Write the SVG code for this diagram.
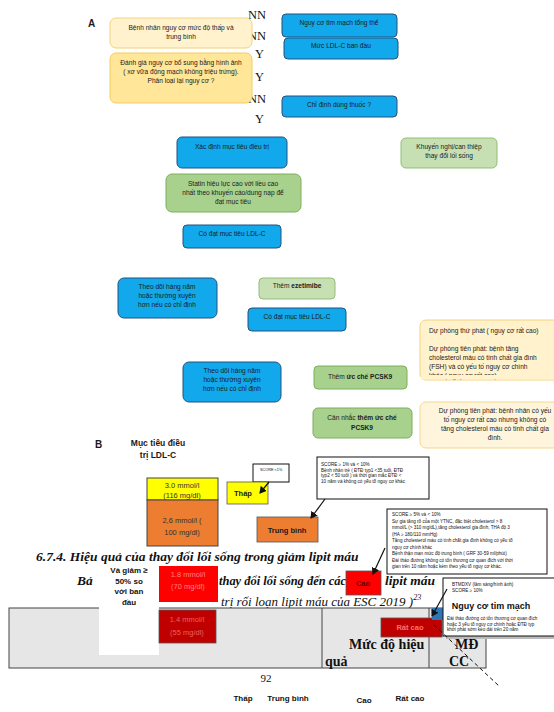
<svg xmlns="http://www.w3.org/2000/svg" width="554" height="712" viewBox="0 0 554 712">
<defs>
<style>
.t{font-family:"Liberation Sans",Arial,sans-serif;font-size:6.6px;fill:#1a1a1a;text-anchor:middle}
.tl{font-family:"Liberation Sans",Arial,sans-serif;font-size:6.6px;fill:#1a1a1a}
.s{font-family:"Liberation Sans",Arial,sans-serif;font-size:4.6px;fill:#111}
.b{font-weight:bold}
.blue{fill:#12a9ec;stroke:#24517e;stroke-width:1}
.g1{fill:#a9d18e;stroke:#7fae5c;stroke-width:1}
.g2{fill:#c6e0b4;stroke:#93bd75;stroke-width:1}
.y1{fill:#fff2cc;stroke:#f3d27a;stroke-width:1}
.y2{fill:#ffe699;stroke:#f2cd5c;stroke-width:1}
.y3{fill:#fff4dc;stroke:#f3d88e;stroke-width:1}
.serif{font-family:"Liberation Serif","Times New Roman",serif;fill:#111}
.note{fill:#fff;stroke:#111;stroke-width:1}
.lab{font-family:"Liberation Sans",Arial,sans-serif;font-size:8px;font-weight:bold;fill:#111;text-anchor:middle}
.v{font-size:7.5px}
</style>
<marker id="ah" markerWidth="8" markerHeight="8" refX="6" refY="4" orient="auto" markerUnits="userSpaceOnUse">
<path d="M0,0 L7,4 L0,8 z" fill="#111"/>
</marker>
</defs>
<rect width="554" height="712" fill="#fff"/>

<!-- Background textbook page -->
<g id="page">
<text class="serif" x="36" y="561" font-size="13.5" font-weight="bold" font-style="italic">6.7.4. Hiệu quả của thay đổi lối sống trong giảm lipit máu</text>
<text class="serif" x="77" y="585" font-size="13.5" font-weight="bold" font-style="italic">Bả</text>
<text class="serif" x="219" y="585" font-size="13.5" font-weight="bold" font-style="italic" textLength="127" lengthAdjust="spacingAndGlyphs">thay đổi lối sống đến các</text>
<text class="serif" x="385" y="585" font-size="13.5" font-weight="bold" font-style="italic">lipit máu</text>
<text class="serif" x="221" y="606" font-size="13" font-style="italic">trị rối loạn lipit máu của ESC 2019 )<tspan font-size="8" dy="-6">23</tspan></text>
<rect x="9" y="608" width="477" height="60" fill="#e7e6e6" stroke="#444" stroke-width="1"/>
<line x1="322" y1="608" x2="322" y2="668" stroke="#444" stroke-width="1"/>
<line x1="429" y1="608" x2="429" y2="668" stroke="#444" stroke-width="1"/>
<text class="serif" x="349" y="649" font-size="14" font-weight="bold">Mức  độ  hiệu</text>
<text class="serif" x="325" y="666" font-size="14" font-weight="bold">quả</text>
<text class="serif" x="455" y="649" font-size="14" font-weight="bold">MĐ</text>
<text class="serif" x="449" y="666" font-size="14" font-weight="bold">CC</text>
<text class="serif" x="266" y="682" font-size="11" text-anchor="middle">92</text>
</g>

<!-- Section A -->
<g id="labelA"><text class="tl b" x="88" y="27" style="font-size:10px">A</text></g>

<g id="yn" class="serif" font-size="12.5">
<text x="248" y="19">NN</text>
<text x="248" y="40">NN</text>
<text x="255" y="58">Y</text>
<text x="255" y="81">Y</text>
<text x="248" y="103">NN</text>
<text x="255" y="123">Y</text>
</g>

<g id="n1"><rect class="y1" x="110" y="18" width="142" height="30" rx="6"/>
<text class="t" x="181" y="30">Bệnh nhân nguy cơ mức độ thấp và</text>
<text class="t" x="181" y="39">trung bình</text></g>

<g id="n2"><rect class="y2" x="110" y="53" width="142" height="50" rx="6"/>
<text class="t" x="181" y="65">Đánh giá nguy cơ bổ sung bằng hình ảnh</text>
<text class="t" x="181" y="74">( xơ vữa động mạch không triệu trứng).</text>
<text class="t" x="181" y="83">Phân loại lại nguy cơ ?</text></g>

<g id="n3"><rect class="blue" x="282" y="14" width="115" height="23" rx="4"/>
<text class="t" x="339" y="25">Nguy cơ tim mạch tổng thể</text></g>

<g id="n4"><rect class="blue" x="284" y="38" width="114" height="21" rx="4"/>
<text class="t" x="341" y="48">Mức LDL-C ban đầu</text></g>

<g id="n5"><rect class="blue" x="282" y="96" width="115" height="21" rx="4"/>
<text class="t" x="339" y="107">Chỉ định dùng thuốc ?</text></g>

<g id="n6"><rect class="blue" x="177" y="137" width="110" height="31" rx="5"/>
<text class="t" x="232" y="149">Xác định mục tiêu điều trị</text></g>

<g id="n7"><rect class="g2" x="401" y="138" width="96" height="30" rx="5"/>
<text class="t" x="449" y="149">Khuyến nghị/can thiệp</text>
<text class="t" x="449" y="158">thay đổi lối sống</text></g>

<g id="n8"><rect class="g1" x="166" y="174" width="135" height="38" rx="6"/>
<text class="t" x="233" y="186">Statin hiệu lực cao với liều cao</text>
<text class="t" x="233" y="195">nhất theo khuyến cáo/dung nạp để</text>
<text class="t" x="233" y="204">đạt mục tiêu</text></g>

<g id="n9"><rect class="blue" x="183" y="225" width="98" height="23" rx="4"/>
<text class="t" x="232" y="236">Có đạt mục tiêu LDL-C</text></g>

<g id="n10"><rect class="blue" x="118" y="278" width="99" height="40" rx="6"/>
<text class="t" x="167" y="289">Theo dõi hàng năm</text>
<text class="t" x="167" y="298">hoặc thường xuyên</text>
<text class="t" x="167" y="307">hơn nếu có chỉ định</text></g>

<g id="n11"><rect class="g2" x="259" y="278" width="76" height="21" rx="4"/>
<text class="t" x="297" y="288">Thêm <tspan class="b">ezetimibe</tspan></text></g>

<g id="n12"><rect class="blue" x="248" y="308" width="98" height="23" rx="4"/>
<text class="t" x="297" y="319">Có đạt mục tiêu LDL-C</text></g>

<g id="n13"><rect class="blue" x="183" y="362" width="98" height="40" rx="6"/>
<text class="t" x="232" y="373">Theo dõi hàng năm</text>
<text class="t" x="232" y="382">hoặc thường xuyên</text>
<text class="t" x="232" y="391">hơn nếu có chỉ định</text></g>

<g id="n14"><rect class="g1" x="314" y="366" width="93" height="23" rx="4"/>
<text class="t" x="360" y="379">Thêm <tspan class="b">ức chế PCSK9</tspan></text></g>

<g id="n15"><rect class="g1" x="313" y="408" width="99" height="30" rx="5"/>
<text class="t" x="362" y="420">Cân nhắc <tspan class="b">thêm ức chế</tspan></text>
<text class="t b" x="362" y="430">PCSK9</text></g>

<g id="n16"><rect class="y1" x="420" y="320" width="145" height="60" rx="6"/>
<text class="tl" x="429" y="333">Dự phòng thứ phát ( nguy cơ rất cao)</text>
<text class="tl" x="429" y="351">Dự phòng tiên phát: bệnh tăng</text>
<text class="tl" x="429" y="360">cholesterol máu có tính chất gia đình</text>
<text class="tl" x="429" y="369">(FSH) và có yếu tố nguy cơ chính</text>
<text class="tl" x="429" y="378">khác ( nguy cơ rất cao)</text>
<rect x="421" y="375" width="143" height="4.5" fill="#fff2cc"/></g>

<g id="n17"><rect class="y3" x="420" y="402" width="150" height="46" rx="6"/>
<text class="t" x="495" y="413">Dự phòng tiên phát: bệnh nhân có yếu</text>
<text class="t" x="495" y="422">tố nguy cơ rất cao nhưng không có</text>
<text class="t" x="495" y="431">tăng cholesterol máu có tính chất gia</text>
<text class="t" x="495" y="440">đình.</text></g>

<!-- Section B -->
<g id="labelB"><text class="tl b" x="95" y="448" style="font-size:10px">B</text></g>
<g id="title"><text class="t b" x="158" y="446" style="font-size:8.5px">Mục tiêu điều</text>
<text class="t b" x="158" y="458" style="font-size:8.5px">trị LDL-C</text></g>

<g id="b1"><rect x="147" y="478" width="71" height="22" fill="#ffff00" stroke="#444" stroke-width="1"/>
<text class="t v" x="182" y="488" style="fill:#333">3.0 mmol/l</text>
<text class="t v" x="182" y="498" style="fill:#333">(116 mg/dl)</text></g>

<g id="b2"><rect x="147" y="500" width="71" height="46" fill="#ed7d31" stroke="#444" stroke-width="1"/>
<text class="t v" x="182" y="523" style="fill:#333">2,6 mmol/l (</text>
<text class="t v" x="182" y="535" style="fill:#333">100 mg/dl)</text></g>

<g id="s1"><rect class="note" x="253" y="464" width="36" height="18"/>
<text class="s" x="260" y="471" style="font-size:3.8px">SCORE &lt;1%</text></g>

<g id="r1"><rect x="227" y="482" width="41" height="22" fill="#ffff00" stroke="#555" stroke-width="0.8"/>
<text class="tl b v" x="234" y="496">Thấp</text></g>

<g id="s2"><rect class="note" x="317" y="457" width="112" height="42"/>
<text class="s" x="321" y="466">SCORE ≥ 1% và &lt; 10%</text>
<text class="s" x="321" y="471.5">Bệnh nhân trẻ ( ĐTĐ typ1 &lt;35 tuổi, ĐTĐ</text>
<text class="s" x="321" y="477">typ2  &lt; 50 tuổi ) và thời gian mắc ĐTĐ &lt;</text>
<text class="s" x="321" y="482.5">10 năm và không có yếu tố nguy cơ khác</text></g>

<g id="r2"><rect x="257" y="517" width="61" height="25" fill="#ed7d31" stroke="#555" stroke-width="0.8"/>
<text class="t b v" x="287" y="533">Trung bình</text></g>

<g id="s3"><rect class="note" x="387" y="509" width="160" height="65"/>
<text class="s" x="392" y="516">SCORE ≥ 5% và &lt; 10%</text>
<text class="s" x="392" y="522.5">Sự gia tăng rõ của một YTNC, đặc biệt cholesterol &gt; 8</text>
<text class="s" x="392" y="529">mmol/L (&gt; 310 mg/dL),tăng cholesterol gia đình, THA độ 3</text>
<text class="s" x="392" y="535.5">(HA ≥ 180/110 mmHg)</text>
<text class="s" x="392" y="542">Tăng cholesterol máu có tính chất gia đình không có yếu tố</text>
<text class="s" x="392" y="548.5">nguy cơ chính khác</text>
<text class="s" x="392" y="555">Bệnh thận mạn mức độ trung bình ( GRF 30-59 ml/phút)</text>
<text class="s" x="392" y="561.5">Đái tháo đường không có tổn thương cơ quan đích với thời</text>
<text class="s" x="392" y="568">gian trên 10 năm hoặc kèm theo yếu tố nguy cơ khác.</text></g>

<g id="r3"><rect x="346" y="571" width="35" height="24" fill="#ff0000" stroke="#555" stroke-width="0.8"/>
<text class="t b v" x="363" y="586" style="fill:#5a0000">Cao</text></g>

<g id="w"><rect x="99" y="565" width="60" height="90" fill="#fff"/>
<text class="lab" x="129" y="573">Và giảm ≥</text>
<text class="lab" x="129" y="584">50% so</text>
<text class="lab" x="129" y="594">với ban</text>
<text class="lab" x="129" y="605">đầu</text></g>

<g id="b3"><rect x="159" y="566" width="59" height="36" fill="#ff0000"/>
<text class="t v" x="188" y="577" style="fill:#ff8080">1.8 mmol/l</text>
<text class="t v" x="188" y="589" style="fill:#ff8080">(70 mg/dl)</text></g>

<g id="b4"><rect x="159" y="610" width="57" height="33" fill="#c00000" stroke="#555" stroke-width="0.8"/>
<text class="t v" x="187" y="622" style="fill:#e86060">1.4 mmol/l</text>
<text class="t v" x="187" y="635" style="fill:#e86060">(55 mg/dl)</text></g>

<g id="r4"><rect x="381" y="618" width="61" height="19" fill="#c00000" stroke="#555" stroke-width="0.8"/>
<text class="t b v" x="410" y="630" style="fill:#ff7070">Rất cao</text></g>

<g id="s4"><rect x="446" y="580" width="112" height="59" fill="#bbb"/>
<rect x="432" y="608" width="13" height="12" fill="#2e75b6"/>
<rect class="note" x="443" y="578" width="112" height="58" stroke="#bbb"/>
<text class="s" x="452" y="586">BTMDXV (lâm sàng/hình ảnh)</text>
<text class="s" x="452" y="592">SCORE ≥ 10%</text>
<text class="t b" x="491" y="609" style="font-size:9px;fill:#111">Nguy cơ tim mạch</text>
<text class="s" x="447" y="620">Đái tháo đường có tổn thương cơ quan đích</text>
<text class="s" x="447" y="625.5">hoặc  3 yếu tố nguy cơ chính hoặc ĐTĐ typ</text>
<text class="s" x="447" y="631">khởi phát sớm kéo dài trên 20 năm</text></g>

<g id="bottomLabels">
<text class="lab" x="243" y="701">Thấp</text>
<text class="lab" x="288" y="701">Trung bình</text>
<text class="lab" x="364" y="703">Cao</text>
<text class="lab" x="410" y="701">Rất cao</text>
</g>

<g id="connectors" stroke="#111" stroke-width="1.2" fill="none">
<line x1="269" y1="482" x2="260" y2="493" marker-end="url(#ah)"/>
<line x1="325" y1="499" x2="311" y2="518" marker-end="url(#ah)"/>
<line x1="385" y1="548" x2="373" y2="574" marker-end="url(#ah)"/>
<line x1="447" y1="589" x2="432" y2="616" marker-end="url(#ah)"/>
<line x1="434" y1="625" x2="499" y2="686" stroke-dasharray="4,3" stroke-width="1"/>
</g>
</svg>
